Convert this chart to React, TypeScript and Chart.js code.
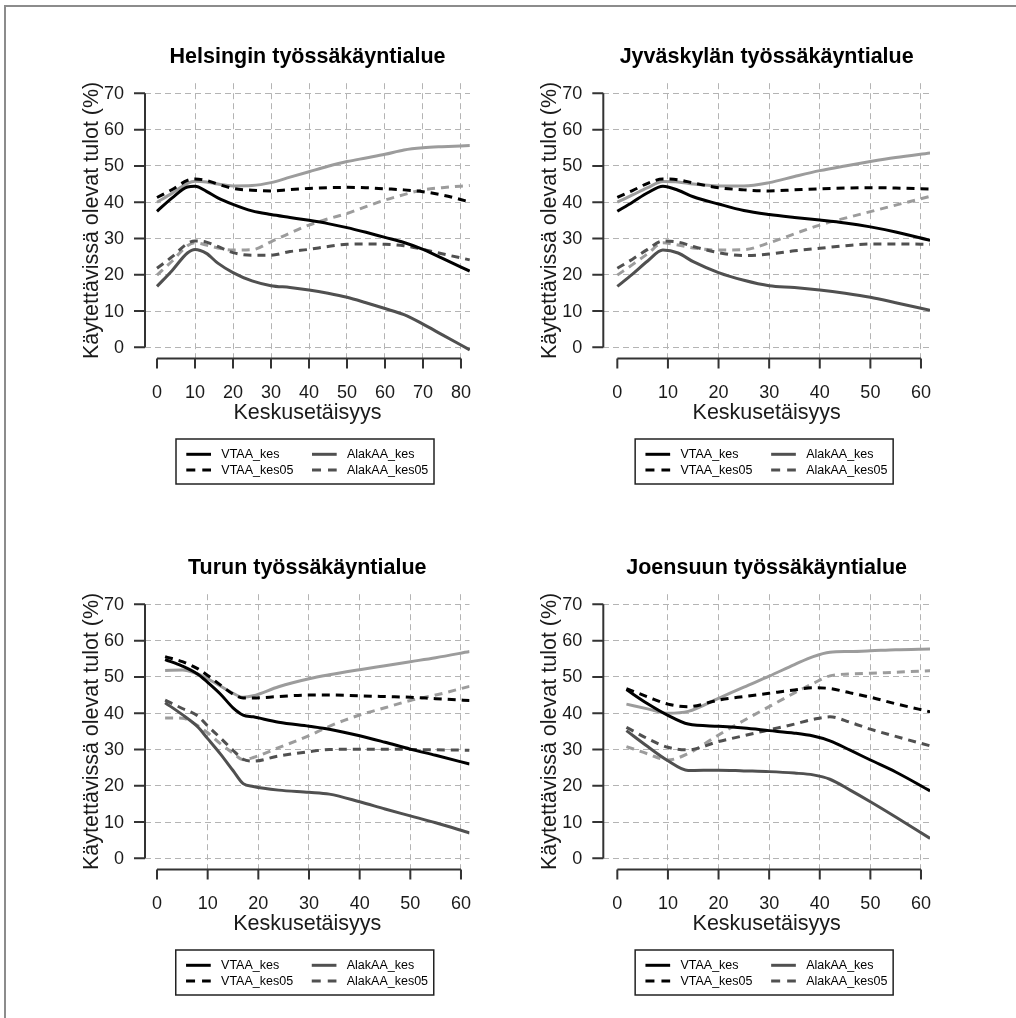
import React, { useEffect, useRef } from "react";
import { Chart, registerables } from "chart.js";

Chart.register(...registerables);

const FONT = "'Liberation Sans', Arial, Helvetica, sans-serif";

// ---------- tick labels ----------
const yTicks = [0, 10, 20, 30, 40, 50, 60, 70];
const xTicks80 = [0, 10, 20, 30, 40, 50, 60, 70, 80];
const xTicks60 = [0, 10, 20, 30, 40, 50, 60];

// ---------- series labels (last two are unlabeled in the legend) ----------
const seriesLabels = ["VTAA_kes", "VTAA_kes05", "AlakAA_kes", "AlakAA_kes05", "", ""];

const titles = [
  "Helsingin työssäkäyntialue",
  "Jyväskylän työssäkäyntialue",
  "Turun työssäkäyntialue",
  "Joensuun työssäkäyntialue",
];
const xAxisTitle = "Keskusetäisyys";
const yAxisTitle = "Käytettävissä olevat tulot (%)";

// ---------- Helsinki ----------
const helX = [0, 4, 8, 10, 13, 16, 20, 25, 30, 35, 40, 45, 50, 55, 60, 65, 70, 75, 82.3];
const helVTAA = [37.5, 41.2, 44.2, 44.4, 43.0, 41.2, 39.4, 37.6, 36.6, 35.8, 35.0, 34.1, 33.0, 31.7, 30.3, 28.9, 27.0, 24.6, 21.0];
const helVTAA05 = [41.3, 43.5, 46.0, 46.4, 46.0, 45.0, 43.8, 43.3, 43.1, 43.5, 43.8, 44.0, 44.1, 44.0, 43.7, 43.4, 42.9, 42.0, 40.1];
const helAlak = [16.8, 21.2, 26.0, 27.0, 25.9, 23.2, 20.6, 18.3, 17.0, 16.5, 15.8, 14.9, 13.8, 12.3, 10.7, 9.0, 6.4, 3.5, -0.7];
const helAlak05 = [21.8, 25.0, 28.6, 29.3, 29.0, 27.8, 26.1, 25.4, 25.4, 26.4, 27.0, 27.8, 28.4, 28.5, 28.4, 28.0, 27.0, 25.8, 24.1];
const helExtraA = [40.0, 42.5, 45.2, 45.8, 45.6, 45.0, 44.5, 44.6, 45.4, 46.9, 48.4, 49.9, 51.2, 52.2, 53.2, 54.4, 55.0, 55.3, 55.6];
const helExtraB = [19.9, 23.8, 28.0, 28.8, 28.2, 27.4, 26.8, 26.9, 29.1, 31.5, 33.7, 35.4, 36.9, 38.8, 40.6, 42.1, 43.4, 44.0, 44.6];

// ---------- Jyväskylä ----------
const jyvX = [0, 3, 6, 9, 12, 15, 20, 25, 30, 35, 40, 45, 50, 55, 61.8];
const jyvVTAA = [37.5, 40.0, 42.6, 44.4, 43.3, 41.5, 39.5, 37.7, 36.6, 35.8, 35.1, 34.3, 33.2, 31.8, 29.5];
const jyvVTAA05 = [41.3, 43.2, 45.2, 46.4, 46.2, 45.3, 44.0, 43.4, 43.1, 43.4, 43.7, 43.9, 44.0, 43.9, 43.6];
const jyvAlak = [16.8, 20.2, 23.8, 26.8, 26.0, 23.6, 20.6, 18.5, 17.0, 16.5, 15.8, 14.9, 13.8, 12.3, 10.2];
const jyvAlak05 = [21.8, 24.3, 27.0, 29.3, 29.0, 27.8, 26.1, 25.3, 25.7, 26.6, 27.3, 28.0, 28.5, 28.5, 28.4];
const jyvExtraA = [40.0, 42.0, 44.0, 45.7, 45.6, 45.0, 44.5, 44.5, 45.4, 47.1, 48.7, 50.0, 51.2, 52.3, 53.6];
const jyvExtraB = [19.9, 22.8, 25.8, 28.8, 28.2, 27.4, 26.8, 26.9, 28.8, 31.3, 33.7, 35.6, 37.4, 39.2, 41.6];

// ---------- Turku ----------
const turX = [1.6, 5, 8, 10, 12.5, 15, 17, 19, 24, 30, 34, 40, 45, 50, 55, 61.7];
const turVTAA = [54.8, 53.0, 50.8, 48.5, 45.3, 41.5, 39.5, 39.0, 37.5, 36.4, 35.6, 33.8, 32.0, 30.1, 28.4, 26.0];
const turVTAA05 = [55.6, 54.2, 52.3, 50.4, 47.8, 45.3, 44.2, 44.2, 44.6, 45.0, 45.0, 44.8, 44.6, 44.4, 44.0, 43.5];
const turAlak = [42.9, 39.6, 36.3, 33.0, 28.8, 24.2, 20.6, 19.8, 18.8, 18.2, 17.7, 15.6, 13.6, 11.7, 9.8, 7.0];
const turAlak05 = [43.6, 41.3, 39.3, 36.5, 33.2, 29.8, 27.3, 26.8, 28.2, 29.4, 30.0, 30.1, 30.1, 30.0, 29.9, 29.8];
const turExtraA = [51.8, 51.9, 50.8, 49.5, 47.5, 45.5, 44.4, 44.8, 47.3, 49.5, 50.6, 52.0, 53.1, 54.2, 55.3, 57.0];
const turExtraB = [38.7, 38.6, 36.6, 34.6, 31.6, 29.0, 27.2, 27.8, 30.5, 33.8, 36.4, 39.5, 41.5, 43.5, 45.0, 47.4];

// ---------- Joensuu ----------
const joeX = [1.8, 6, 10, 14, 20, 25, 30, 35, 38.7, 42, 46, 50, 55, 61.8];
const joeVTAA = [46.5, 42.6, 39.4, 37.0, 36.4, 35.9, 35.2, 34.5, 33.7, 32.4, 29.8, 27.1, 23.8, 18.6];
const joeVTAA05 = [46.8, 44.5, 42.5, 41.8, 43.6, 44.6, 45.5, 46.4, 47.0, 46.8, 45.6, 44.4, 42.6, 40.4];
const joeAlak = [35.2, 30.8, 26.9, 24.2, 24.3, 24.1, 23.9, 23.5, 23.0, 21.8, 18.8, 15.6, 11.4, 5.5];
const joeAlak05 = [36.1, 33.0, 30.6, 29.9, 32.2, 33.8, 35.4, 37.0, 38.3, 39.0, 37.5, 35.6, 33.6, 31.0];
const joeExtraA = [42.5, 41.2, 40.0, 40.5, 44.1, 47.2, 50.2, 53.4, 55.6, 56.8, 57.0, 57.2, 57.5, 57.7];
const joeExtraB = [30.8, 28.8, 27.1, 28.9, 34.0, 38.0, 41.8, 45.6, 48.2, 50.3, 50.8, 51.0, 51.3, 51.7];

// ---------- styles ----------
const seriesColors = ["#000000", "#000000", "#505050", "#505050", "#9c9c9c", "#9c9c9c"];
const seriesDashed = [false, true, false, true, false, true];

type Pad = { left: number; right: number; top: number; bottom: number };
type Panel = {
  title: string;
  xs: number[];
  series: number[][];
  xTicks: number[];
  xMin: number;
  xMax: number;
  left: number;
  top: number;
  pad: Pad;
};

const CW = 508;
const CH = 509;

const panels: Panel[] = [
  {
    title: titles[0],
    xs: helX,
    series: [helVTAA, helVTAA05, helAlak, helAlak05, helExtraA, helExtraB],
    xTicks: xTicks80,
    xMin: -3.16,
    xMax: 82.37,
    left: 0,
    top: 0,
    pad: { left: 145, right: 38, top: 83.2, bottom: 151.5 },
  },
  {
    title: titles[1],
    xs: jyvX,
    series: [jyvVTAA, jyvVTAA05, jyvAlak, jyvAlak05, jyvExtraA, jyvExtraB],
    xTicks: xTicks60,
    xMin: -2.77,
    xMax: 61.78,
    left: 508,
    top: 0,
    pad: { left: 95.3, right: 86, top: 83.2, bottom: 151.5 },
  },
  {
    title: titles[2],
    xs: turX,
    series: [turVTAA, turVTAA05, turAlak, turAlak05, turExtraA, turExtraB],
    xTicks: xTicks60,
    xMin: -2.37,
    xMax: 61.68,
    left: 0,
    top: 509,
    pad: { left: 145, right: 38.5, top: 85.2, bottom: 149.5 },
  },
  {
    title: titles[3],
    xs: joeX,
    series: [joeVTAA, joeVTAA05, joeAlak, joeAlak05, joeExtraA, joeExtraB],
    xTicks: xTicks60,
    xMin: -2.77,
    xMax: 61.78,
    left: 508,
    top: 509,
    pad: { left: 95.3, right: 86, top: 85.2, bottom: 149.5 },
  },
];

function makeDecor(panel: Panel) {
  return {
    id: "rDecor",
    afterDraw(chart: any) {
      const ctx: CanvasRenderingContext2D = chart.ctx;
      const ca = chart.chartArea;
      const xs = chart.scales.x;
      const ys = chart.scales.y;
      ctx.save();

      // axes lines + tick marks
      ctx.strokeStyle = "#333333";
      ctx.lineWidth = 2;
      ctx.lineCap = "butt";
      ctx.setLineDash([]);
      ctx.beginPath();
      const yTop = ys.getPixelForValue(yTicks[yTicks.length - 1]);
      const yBot = ys.getPixelForValue(yTicks[0]);
      ctx.moveTo(ca.left, yBot);
      ctx.lineTo(ca.left, yTop);
      yTicks.forEach((t) => {
        const p = ys.getPixelForValue(t);
        ctx.moveTo(ca.left - 11, p);
        ctx.lineTo(ca.left, p);
      });
      const ax = ca.bottom + 1;
      const xL = xs.getPixelForValue(panel.xTicks[0]);
      const xR = xs.getPixelForValue(panel.xTicks[panel.xTicks.length - 1]);
      ctx.moveTo(xL, ax);
      ctx.lineTo(xR, ax);
      panel.xTicks.forEach((t) => {
        const p = xs.getPixelForValue(t);
        ctx.moveTo(p, ax);
        ctx.lineTo(p, ax + 10);
      });
      ctx.stroke();

      // tick labels
      ctx.fillStyle = "#1a1a1a";
      ctx.font = `18px ${FONT}`;
      ctx.textAlign = "right";
      ctx.textBaseline = "middle";
      yTicks.forEach((t) => {
        ctx.fillText(String(t), ca.left - 21, ys.getPixelForValue(t) + 0.5);
      });
      ctx.textAlign = "center";
      ctx.textBaseline = "alphabetic";
      panel.xTicks.forEach((t) => {
        ctx.fillText(String(t), xs.getPixelForValue(t), ax + 39.4);
      });

      // axis titles
      const cx = (ca.left + ca.right) / 2;
      const cy = (ca.top + ca.bottom) / 2;
      ctx.font = `21.5px ${FONT}`;
      ctx.fillText(xAxisTitle, cx, ax + 60);
      ctx.save();
      ctx.translate(ca.left - 47.5, cy);
      ctx.rotate(-Math.PI / 2);
      ctx.fillText(yAxisTitle, 0, 0);
      ctx.restore();

      // main title
      ctx.fillStyle = "#000000";
      ctx.font = `bold 21.5px ${FONT}`;
      ctx.fillText(panel.title, cx, ca.top - 20);

      // legend
      const bw = 258;
      const bh = 45;
      const bx = cx - 2.5 - bw / 2;
      const by = ca.bottom + 81.5;
      ctx.lineWidth = 1.5;
      ctx.strokeStyle = "#222222";
      ctx.strokeRect(bx, by, bw, bh);
      ctx.font = `12.5px ${FONT}`;
      ctx.textAlign = "left";
      ctx.textBaseline = "middle";
      chart.data.datasets.forEach((ds: any, i: number) => {
        if (!ds.label) return;
        const col = Math.floor(i / 2);
        const row = i % 2;
        const lx = bx + 10.3 + col * 125.7;
        const ly = by + 15.3 + row * 15.7;
        ctx.strokeStyle = ds.borderColor;
        ctx.lineWidth = 3;
        ctx.setLineDash(ds.borderDash && ds.borderDash.length ? [9, 7] : []);
        ctx.beginPath();
        ctx.moveTo(lx, ly);
        ctx.lineTo(lx + 24.7, ly);
        ctx.stroke();
        ctx.setLineDash([]);
        ctx.fillStyle = "#000000";
        ctx.fillText(ds.label, lx + 35, ly + 0.5);
      });

      ctx.restore();
    },
  };
}

function PanelChart({ panel }: { panel: Panel }) {
  const ref = useRef<HTMLCanvasElement>(null);
  useEffect(() => {
    if (!ref.current) return;
    const datasets = panel.series.map((vals, i) => ({
      label: seriesLabels[i],
      data: panel.xs.map((x, j) => ({ x, y: vals[j] })),
      borderColor: seriesColors[i],
      borderWidth: 3,
      borderDash: seriesDashed[i] ? [8, 6] : [],
      pointRadius: 0,
      fill: false,
      cubicInterpolationMode: "monotone" as const,
    }));
    const chart = new Chart(ref.current, {
      type: "line",
      data: { datasets },
      options: {
        animation: false,
        responsive: false,
        maintainAspectRatio: false,
        events: [],
        layout: { padding: panel.pad },
        plugins: {
          legend: { display: false },
          tooltip: { enabled: false },
          title: { display: false },
        },
        scales: {
          x: {
            type: "linear",
            min: panel.xMin,
            max: panel.xMax,
            afterBuildTicks: (scale: any) => {
              scale.ticks = panel.xTicks.map((v) => ({ value: v }));
            },
            afterFit: (scale: any) => {
              scale.height = 0;
            },
            ticks: { display: false },
            grid: {
              drawTicks: false,
              lineWidth: 1,
              color: (c: any) =>
                c.tick && c.tick.value === 0 ? "rgba(0,0,0,0)" : "#b4b4b4",
            },
            border: { display: false, dash: [6, 4] },
          },
          y: {
            type: "linear",
            min: -2.8,
            max: 72.8,
            afterBuildTicks: (scale: any) => {
              scale.ticks = yTicks.map((v) => ({ value: v }));
            },
            afterFit: (scale: any) => {
              scale.width = 0;
            },
            ticks: { display: false },
            grid: { drawTicks: false, lineWidth: 1, color: "#b4b4b4" },
            border: { display: false, dash: [6, 4] },
          },
        },
      },
      plugins: [makeDecor(panel)],
    } as any);
    return () => chart.destroy();
  }, [panel]);
  return (
    <canvas
      ref={ref}
      width={CW}
      height={CH}
      style={{ position: "absolute", left: panel.left, top: panel.top, width: CW, height: CH }}
    />
  );
}

export default function App() {
  return (
    <div
      style={{
        position: "absolute",
        left: 0,
        top: 0,
        width: 1016,
        height: 1018,
        background: "#ffffff",
        overflow: "hidden",
      }}
    >
      <div
        style={{
          position: "absolute",
          left: 4,
          top: 5,
          width: 1012,
          height: 1013,
          boxSizing: "border-box",
          borderTop: "2px solid #8c8c8c",
          borderLeft: "2px solid #8c8c8c",
        }}
      />
      {panels.map((p, i) => (
        <PanelChart key={i} panel={p} />
      ))}
    </div>
  );
}
